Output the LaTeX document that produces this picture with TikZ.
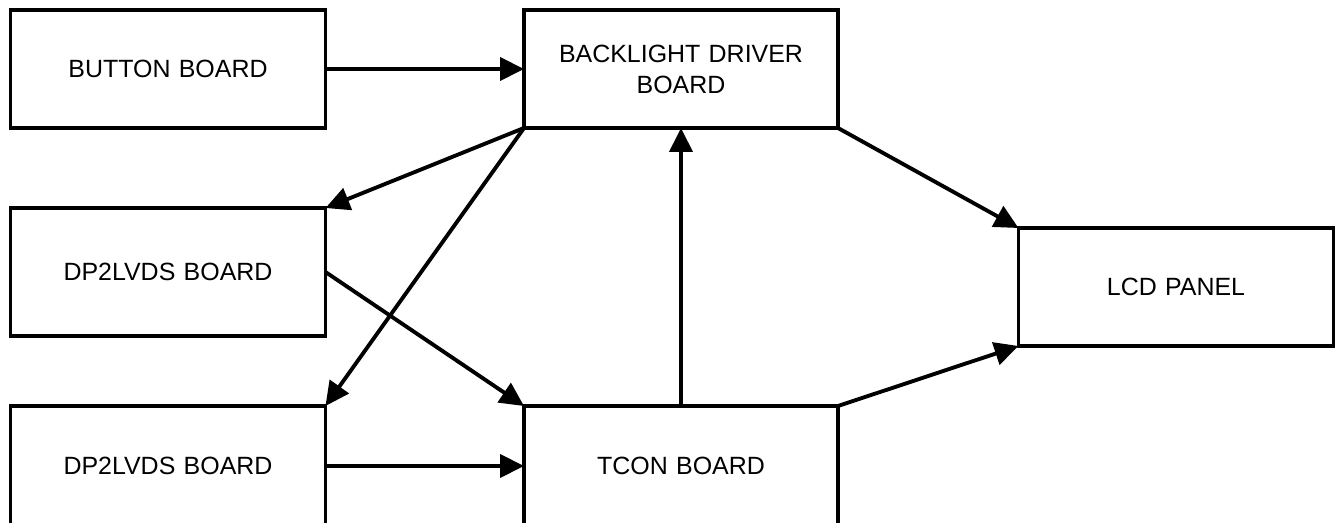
\documentclass[tikz,border=0pt]{standalone}
\usepackage{fontspec}
\setmainfont{Liberation Sans}
\usepackage{tikz}
\usetikzlibrary{arrows.meta,positioning}

\begin{document}
\begin{tikzpicture}[
    x=0.02cm, y=-0.02cm,
    every node/.style={font=\fontsize{14.2}{17.6}\selectfont},
    board/.style={rectangle, draw=black, line width=2.2pt, minimum width=6.3cm, minimum height=2.36cm, text width=5.6cm, align=center, inner sep=0pt, outer sep=0pt},
    arrow/.style={-{Triangle[length=0.48cm, width=0.46cm]}, line width=2.2pt, black}
]
    \clip (0,0) rectangle (1336,523);
    \useasboundingbox (0,0) rectangle (1336,523);

    % Left column
    \node[board] (button) at (168,69) {BUTTON BOARD};
    \node[board, minimum height=2.56cm] (dpa) at (168,272) {DP2LVDS BOARD};
    \node[board, minimum height=2.4cm] (dpb) at (168,466) {DP2LVDS BOARD};

    % Middle column
    \node[board, minimum width=6.28cm] (backlight) at (681,69) {BACKLIGHT DRIVER\\BOARD};
    \node[board, minimum width=6.28cm, minimum height=2.4cm] (tcon) at (681,466) {TCON BOARD};

    % Right column
    \node[board] (lcd) at (1176,287) {LCD PANEL};

    % Connections
    \draw[arrow] (button) -- (backlight);
    \draw[arrow] (backlight.south west) -- (dpa.north east);
    \draw[arrow] (backlight.south west) -- (dpb.north east);
    \draw[arrow] (dpa.east) -- (tcon.north west);
    \draw[arrow] (dpb.east |- tcon.west) -- (tcon.west);
    \draw[arrow] (tcon.north) -- (backlight.south);
    \draw[arrow] (backlight.south east) -- (lcd.north west);
    \draw[arrow] (tcon.north east) -- (lcd.south west);
\end{tikzpicture}
\end{document}
